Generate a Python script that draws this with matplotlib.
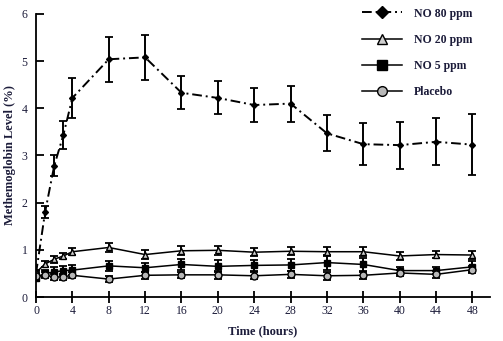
import matplotlib
matplotlib.use("Agg")
import matplotlib.pyplot as plt
from matplotlib.lines import Line2D

# Methemoglobin over time for each treatment group
hours = [0, 1, 2, 3, 4, 8, 12, 16, 20, 24, 28, 32, 36, 40, 44, 48]

no80 = [0.50, 1.80, 2.78, 3.43, 4.22, 5.04, 5.08, 4.33, 4.22, 4.07, 4.10, 3.47, 3.24, 3.22, 3.29, 3.23]
no80_err = [0.05, 0.12, 0.22, 0.30, 0.42, 0.48, 0.48, 0.35, 0.35, 0.36, 0.38, 0.38, 0.45, 0.50, 0.50, 0.65]

no20 = [0.52, 0.70, 0.80, 0.87, 0.96, 1.05, 0.90, 0.98, 0.99, 0.95, 0.97, 0.96, 0.96, 0.87, 0.90, 0.89]
no20_err = [0.06, 0.07, 0.07, 0.07, 0.08, 0.10, 0.09, 0.10, 0.10, 0.09, 0.09, 0.10, 0.10, 0.09, 0.08, 0.09]

no5 = [0.40, 0.50, 0.53, 0.56, 0.57, 0.66, 0.62, 0.69, 0.65, 0.67, 0.68, 0.73, 0.69, 0.56, 0.56, 0.64]
no5_err = [0.05, 0.08, 0.10, 0.10, 0.10, 0.10, 0.10, 0.12, 0.13, 0.12, 0.12, 0.15, 0.14, 0.08, 0.08, 0.12]

placebo = [0.45, 0.47, 0.42, 0.43, 0.46, 0.38, 0.46, 0.47, 0.47, 0.45, 0.48, 0.45, 0.46, 0.51, 0.48, 0.58]
placebo_err = [0.05, 0.06, 0.06, 0.06, 0.06, 0.06, 0.07, 0.07, 0.08, 0.07, 0.07, 0.08, 0.07, 0.06, 0.07, 0.07]

x_ticks = list(range(0, 49, 4))
y_ticks = [0, 1, 2, 3, 4, 5, 6]

plt.rcParams["font.family"] = ["Liberation Serif", "DejaVu Serif"]
txt_color = "#1c1c3a"

fig = plt.figure(figsize=(5.03, 3.41), dpi=100)
ax = fig.add_axes([0.0716, 0.129, 0.902, 0.83])

# label, values, errors, marker, face, linestyle, size in plot, size in legend, width
series = [
    ("NO 80 ppm", no80, no80_err, "D", "black", (0, (5, 2, 1, 2)), 3.0, 6.0, 1.4),
    ("NO 20 ppm", no20, no20_err, "^", "#cfcfcf", "-", 4.5, 6.5, 1.1),
    ("NO 5 ppm", no5, no5_err, "s", "black", "-", 4.5, 6.5, 1.1),
    ("Placebo", placebo, placebo_err, "o", "#b8b8b8", "-", 5.0, 7.0, 1.1),
]

handles = []
for label, y, err, mk, fc, ls, ms, ms_leg, lw in series:
    line, caps, bars = ax.errorbar(hours, y, yerr=err, color="black", marker=mk,
                                   markerfacecolor=fc, markeredgecolor="black",
                                   markersize=ms, linestyle=ls, linewidth=lw,
                                   elinewidth=1.4, capsize=3, capthick=1.3)
    bars[0].set_linestyle("-")
    handles.append(Line2D([], [], color="black", marker=mk, markerfacecolor=fc,
                          markeredgecolor="black", markersize=ms_leg,
                          linestyle=ls, linewidth=lw, label=label))

ax.set_xlim(0, 49.9)
ax.set_ylim(0, 6)
ax.set_xticks(x_ticks)
ax.set_yticks(y_ticks)
ax.spines["top"].set_visible(False)
ax.spines["right"].set_visible(False)
ax.spines["left"].set_linewidth(1.3)
ax.spines["bottom"].set_linewidth(1.3)
ax.tick_params(axis="x", direction="inout", length=8, width=1.3, labelsize=8.5,
               labelcolor=txt_color, pad=2)
ax.tick_params(axis="y", direction="in", length=6, width=1.3, labelsize=8.5,
               labelcolor=txt_color, pad=6)

ax.set_xlabel("Time (hours)", fontsize=9, fontweight="bold", color=txt_color, labelpad=6)
ax.set_ylabel("Methemoglobin Level (%)", fontsize=9, fontweight="bold", color=txt_color, labelpad=4)

leg = ax.legend(handles=handles, loc="upper right", bbox_to_anchor=(0.985, 1.06),
                frameon=False, handlelength=3.4, handletextpad=1.0, labelspacing=1.2,
                prop={"size": 8.5, "weight": "bold"})
for t in leg.get_texts():
    t.set_color(txt_color)

fig.savefig("out.png", dpi=100)
